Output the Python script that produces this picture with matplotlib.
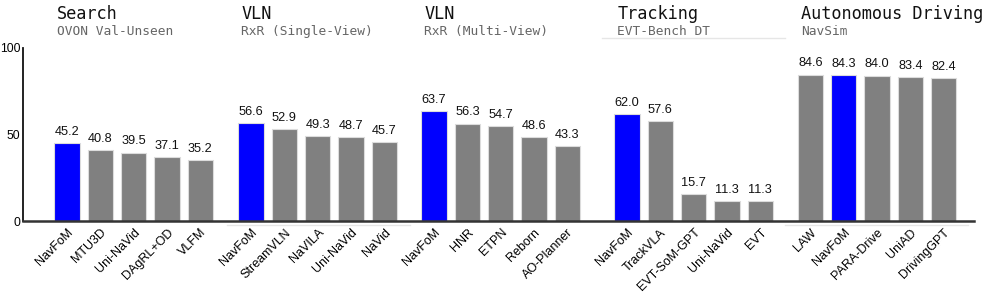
import matplotlib
matplotlib.use("Agg")
import matplotlib.pyplot as plt
from matplotlib.lines import Line2D
from matplotlib.transforms import blended_transform_factory

titles = ["Search", "VLN", "VLN", "Tracking", "Autonomous Driving"]
subtitles = ["OVON Val-Unseen", "RxR (Single-View)", "RxR (Multi-View)", "EVT-Bench DT", "NavSim"]

search_models = ["NavFoM", "MTU3D", "Uni-NaVid", "DAgRL+OD", "VLFM"]
search_vals = [45.2, 40.8, 39.5, 37.1, 35.2]

vln_sv_models = ["NavFoM", "StreamVLN", "NaVILA", "Uni-NaVid", "NaVid"]
vln_sv_vals = [56.6, 52.9, 49.3, 48.7, 45.7]

vln_mv_models = ["NavFoM", "HNR", "ETPN", "Reborn", "AO-Planner"]
vln_mv_vals = [63.7, 56.3, 54.7, 48.6, 43.3]

track_models = ["NavFoM", "TrackVLA", "EVT-SoM-GPT", "Uni-NaVid", "EVT"]
track_vals = [62.0, 57.6, 15.7, 11.3, 11.3]

drive_models = ["LAW", "NavFoM", "PARA-Drive", "UniAD", "DrivingGPT"]
drive_vals = [84.6, 84.3, 84.0, 83.4, 82.4]

groups_models = [search_models, vln_sv_models, vln_mv_models, track_models, drive_models]
groups_vals = [search_vals, vln_sv_vals, vln_mv_vals, track_vals, drive_vals]
highlight = "NavFoM"

# layout
group_offsets = [0, 5.52, 11.01, 16.8, 22.3]
bar_w = 0.76

fig = plt.figure(figsize=(9.95, 2.92), dpi=100)
ax = fig.add_axes([23/995, 1 - 221/292, (974 - 23)/995, (221 - 48)/292])

xs, ys, labels, colors = [], [], [], []
for off, models, vals in zip(group_offsets, groups_models, groups_vals):
    for i, (m, v) in enumerate(zip(models, vals)):
        xs.append(off + i)
        ys.append(v)
        labels.append(m)
        colors.append("#0000ff" if m == highlight else "#808080")

ax.bar(xs, ys, width=bar_w, color=colors, edgecolor="#dcdcdc", linewidth=0.8)
for x, y in zip(xs, ys):
    ax.text(x, y + 3.0, f"{y:.1f}", ha="center", va="bottom",
            fontsize=9.2, family="Liberation Sans", color="#111111")

ax.set_xlim(-1.32, 27.21)
ax.set_ylim(0, 100)
ax.set_yticks([0, 50, 100])
ax.set_xticks(xs)
ax.set_xticklabels(labels, rotation=45, ha="right", rotation_mode="anchor",
                   fontsize=9, family="Liberation Sans")
for t in ax.get_yticklabels():
    t.set_family("Liberation Sans")
    t.set_fontsize(8.8)
ax.tick_params(axis="x", length=0, pad=4)
ax.tick_params(axis="y", length=0, pad=2)
for s in ["top", "right"]:
    ax.spines[s].set_visible(False)
ax.spines["left"].set_linewidth(1.3)
ax.spines["left"].set_color("#111111")
ax.spines["bottom"].set_linewidth(1.8)
ax.spines["bottom"].set_color("#333333")

tr = blended_transform_factory(ax.transData, fig.transFigure)
for off, t, st in zip(group_offsets, titles, subtitles):
    x0 = off - bar_w / 2 + 0.09
    ax.text(x0, 1 - 19/292, t, ha="left", va="baseline", transform=tr,
            family="DejaVu Sans Mono", fontsize=12.2, color="#111111", clip_on=False)
    ax.text(x0, 1 - 35/292, st, ha="left", va="baseline", transform=tr,
            family="DejaVu Sans Mono", fontsize=9.25, color="#666666", clip_on=False)

# faint separator lines
for (x0, x1, y) in [(602, 785, 38), (227, 410, 225), (785, 968, 225)]:
    fig.add_artist(Line2D([x0/995, x1/995], [1 - y/292, 1 - y/292],
                          color="#e6e6e6", lw=1.0, transform=fig.transFigure))

fig.savefig("out.png", dpi=100)
